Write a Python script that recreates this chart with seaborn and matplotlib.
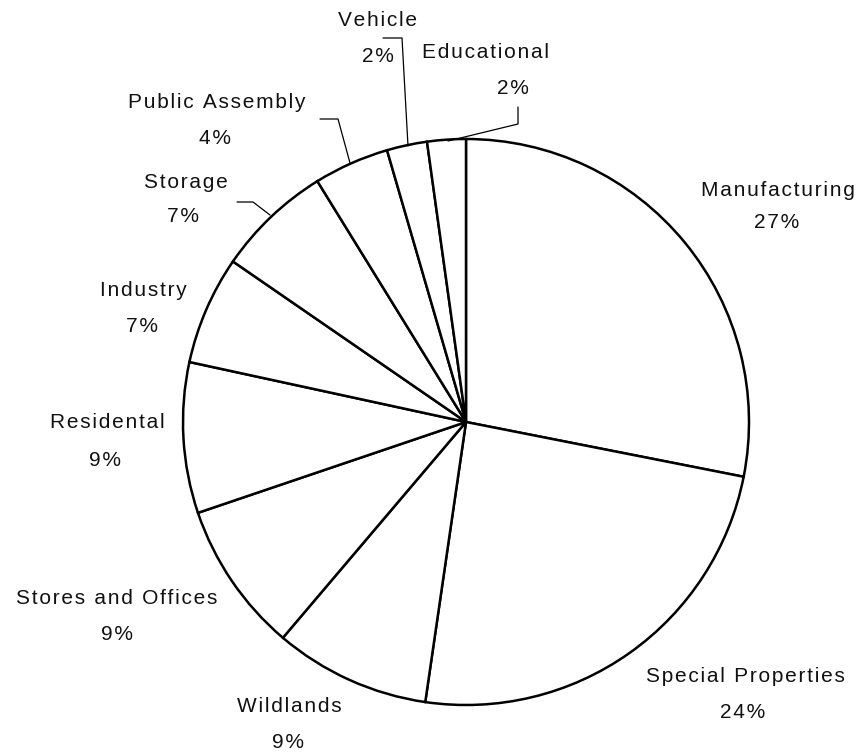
import numpy as np
import seaborn as sns
import matplotlib.pyplot as plt

sns.set_style("white")
plt.rcParams["font.family"] = ["Liberation Sans", "DejaVu Sans"]

# slice data, clockwise from 12 o'clock
categories = ["Manufacturing", "Special Properties", "Wildlands", "Stores and Offices",
              "Residental", "Industry", "Storage", "Public Assembly", "Vehicle", "Educational"]
shares = [28.1, 24.2, 8.9, 8.6, 8.6, 6.2, 6.6, 4.3, 2.3, 2.2]
pct_labels = ["27%", "24%", "9%", "9%", "9%", "7%", "7%", "4%", "2%", "2%"]

# label placement (pixel coords, y from top): name, percent line
name_pos = [(778, 190), (745, 677), (289, 707), (117, 598), (107, 423),
            (143, 291), (186, 183), (217, 103), (378, 20), (485, 52)]
pct_pos = [(777, 223), (743, 712), (288, 742), (117, 634), (105, 460),
           (142, 326), (183, 217), (215, 138), (378, 56), (513, 88)]
# leader lines for the small slices
leaders = {
    "Storage": [(237, 202), (253, 202), (270, 215)],
    "Public Assembly": [(320, 119), (338, 119), (350, 163)],
    "Vehicle": [(383, 38), (402, 38), (408, 146)],
    "Educational": [(518, 107), (518, 124), (448, 141)],
}

W, H = 865, 754


def spaced(s):
    # wide letter spacing like the original
    return "\u200a".join(s)


fig = plt.figure(figsize=(8.65, 7.54), dpi=100)
ax = fig.add_axes([0, 0, 1, 1])

ax.pie(shares, startangle=90, counterclock=False, center=(466, H - 422), radius=283,
       wedgeprops=dict(facecolor="white", edgecolor="black", linewidth=1.8),
       frame=True)
ax.set_xlim(0, W)
ax.set_ylim(0, H)
ax.set_aspect("equal")
ax.axis("off")

for cat, p, (nx, ny), (px, py) in zip(categories, pct_labels, name_pos, pct_pos):
    ax.text(nx, H - ny, spaced(cat), ha="center", va="center", fontsize=15, color="#111111")
    ax.text(px, H - py, spaced(p), ha="center", va="center", fontsize=15, color="#111111")

for cat, pts in leaders.items():
    xs = [x for x, y in pts]
    ys = [H - y for x, y in pts]
    ax.plot(xs, ys, color="black", linewidth=0.9)

fig.savefig("out.png", dpi=100, facecolor="white")
